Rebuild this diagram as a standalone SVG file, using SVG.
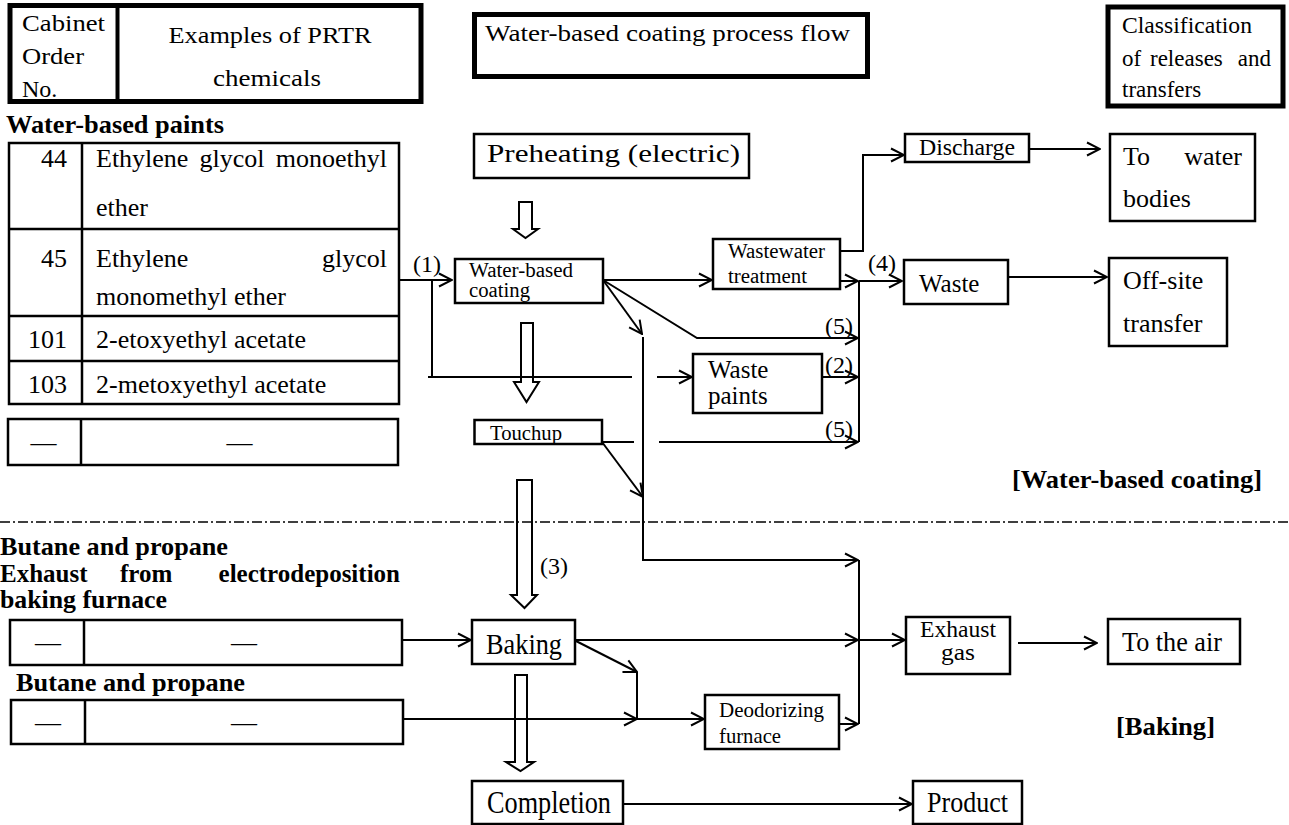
<svg xmlns="http://www.w3.org/2000/svg" width="1289" height="825" viewBox="0 0 1289 825" font-family="'Liberation Serif', 'Times New Roman', serif">
  <style>
    text { font-family: 'Liberation Serif', 'Times New Roman', serif; fill: #000; }
    .b { font-weight: bold; }
    .box { fill: #fff; stroke: #000; stroke-width: 2.5; }
    .thick { fill: #fff; stroke: #000; stroke-width: 5; }
    .rule { stroke: #000; stroke-width: 2.5; fill: none; }
    .conn path { fill: none; stroke: #000; stroke-width: 2; }
    .barrow { fill: none; stroke: #000; stroke-width: 2; }
  </style>
  <defs>
    <marker id="ah" markerUnits="userSpaceOnUse" markerWidth="16" markerHeight="16" viewBox="0 0 16 16" refX="15" refY="8" orient="auto">
      <path d="M2,1.5 L15,8 L2,14.5" fill="none" stroke="#000" stroke-width="2"/>
    </marker>
  </defs>
  <rect width="1289" height="825" fill="#fff"/>

  <!-- section divider -->
  <line x1="0" y1="522" x2="1289" y2="522" stroke="#000" stroke-width="1.5" stroke-dasharray="10 3 2 3"/>

  <!-- block (process) arrows -->
  <g id="process-arrows">
    <polygon class="barrow" points="519,202 532,202 532,229 538,229 525.5,238 513,229 519,229"/>
    <polygon class="barrow" points="521,323 533,323 533,382 539,382 526.5,402 514,382 521,382"/>
    <polygon class="barrow" points="517,480 532,480 532,595 537,595 524.5,608 511,595 517,595"/>
    <polygon class="barrow" points="515,675 527,675 527,762 534,762 520.5,771 506,762 515,762"/>
  </g>

  <!-- connectors -->
  <g id="connectors" class="conn">
    <path d="M398,280 H452" marker-end="url(#ah)"/>
    <path d="M432,280 V377"/>
    <path d="M428,377 H632"/>
    <path d="M657,377 H692" marker-end="url(#ah)"/>
    <path d="M603,280 H712" marker-end="url(#ah)"/>
    <path d="M603,280 L642,334" marker-end="url(#ah)"/>
    <path d="M603,280 L697,338 H858" marker-end="url(#ah)"/>
    <path d="M643,337 V560 H858" marker-end="url(#ah)"/>
    <path d="M602,442 H634"/>
    <path d="M659,442 H858" marker-end="url(#ah)"/>
    <path d="M602,442 L643,497" marker-end="url(#ah)"/>
    <path d="M840,251 H863 V155 H904" marker-end="url(#ah)"/>
    <path d="M840,281 H858" marker-end="url(#ah)"/>
    <path d="M822,377 H858" marker-end="url(#ah)"/>
    <path d="M859,281 V442"/>
    <path d="M859,281 H902" marker-end="url(#ah)"/>
    <path d="M1029,149 H1100" marker-end="url(#ah)"/>
    <path d="M1008,277 H1107" marker-end="url(#ah)"/>
    <path d="M402,640 H471" marker-end="url(#ah)"/>
    <path d="M574,640 H858" marker-end="url(#ah)"/>
    <path d="M859,640 H905" marker-end="url(#ah)"/>
    <path d="M574,640 L637,672" marker-end="url(#ah)"/>
    <path d="M637,672 V719"/>
    <path d="M403,719 H637" marker-end="url(#ah)"/>
    <path d="M637,719 H704" marker-end="url(#ah)"/>
    <path d="M836,724 H858" marker-end="url(#ah)"/>
    <path d="M859,560 V724"/>
    <path d="M1018,643 H1097" marker-end="url(#ah)"/>
    <path d="M623,804 H912" marker-end="url(#ah)"/>
  </g>

  <!-- flow labels -->
  <g id="labels" font-size="24">
    <text x="413" y="272">(1)</text>
    <text x="868" y="271">(4)</text>
    <text x="825" y="334">(5)</text>
    <text x="825" y="373">(2)</text>
    <text x="825" y="437">(5)</text>
    <text x="540" y="574">(3)</text>
  </g>

  <!-- column headers -->
  <g id="header-chemicals">
    <rect class="thick" x="10" y="5.5" width="411" height="96" stroke-width="4.5"/>
    <line x1="117.5" y1="5.5" x2="117.5" y2="101.5" stroke="#000" stroke-width="4"/>
    <g font-size="24">
      <text x="22" y="31" textLength="83" lengthAdjust="spacingAndGlyphs">Cabinet</text>
      <text x="22" y="64" textLength="62" lengthAdjust="spacingAndGlyphs">Order</text>
      <text x="22" y="97">No.</text>
      <text x="270" y="43" text-anchor="middle" textLength="203" lengthAdjust="spacingAndGlyphs">Examples of PRTR</text>
      <text x="267" y="86" text-anchor="middle" textLength="108" lengthAdjust="spacingAndGlyphs">chemicals</text>
    </g>
  </g>
  <g id="header-flow">
    <rect class="thick" x="474.5" y="14.5" width="393" height="62"/>
    <text x="485" y="41" font-size="24" textLength="365" lengthAdjust="spacingAndGlyphs">Water-based coating process flow</text>
  </g>
  <g id="header-classification">
    <rect class="thick" x="1108" y="7" width="175" height="99" stroke-width="5.5"/>
    <g font-size="23">
      <text x="1122" y="33" textLength="130" lengthAdjust="spacingAndGlyphs">Classification</text>
      <text x="1122" y="66">of</text>
      <text x="1150" y="66">releases</text>
      <text x="1271" y="66" text-anchor="end">and</text>
      <text x="1122" y="97">transfers</text>
    </g>
  </g>

  <!-- chemicals: water-based paints -->
  <g id="table-water-based-paints">
    <text class="b" x="6" y="133" font-size="25" textLength="218" lengthAdjust="spacingAndGlyphs">Water-based paints</text>
    <rect class="box" x="9" y="143" width="390" height="261"/>
    <path class="rule" d="M9,229 H399 M9,316 H399 M9,361 H399 M82,143 V404"/>
    <g font-size="26">
      <text x="67" y="167" text-anchor="end">44</text>
      <text x="96" y="167">Ethylene</text>
      <text x="199.5" y="167">glycol</text>
      <text x="387" y="167" text-anchor="end">monoethyl</text>
      <text x="96" y="216">ether</text>
      <text x="67" y="267" text-anchor="end">45</text>
      <text x="96" y="267">Ethylene</text>
      <text x="387" y="267" text-anchor="end">glycol</text>
      <text x="96" y="305">monomethyl ether</text>
      <text x="67" y="348" text-anchor="end">101</text>
      <text x="96" y="348">2-etoxyethyl acetate</text>
      <text x="67" y="393" text-anchor="end">103</text>
      <text x="96" y="393">2-metoxyethyl acetate</text>
    </g>
  </g>
  <g id="table-blank-1">
    <rect class="box" x="8" y="419" width="390" height="46"/>
    <line x1="81" y1="419" x2="81" y2="465" stroke="#000" stroke-width="2.5"/>
    <text x="43.5" y="451" font-size="26" text-anchor="middle">—</text>
    <text x="239.5" y="451" font-size="26" text-anchor="middle">—</text>
  </g>

  <!-- chemicals: baking -->
  <g id="label-baking-chemicals" class="b" font-size="25">
    <text x="0" y="555" textLength="228" lengthAdjust="spacingAndGlyphs">Butane and propane</text>
    <text x="0" y="582">Exhaust</text>
    <text x="120" y="582">from</text>
    <text x="400" y="582" text-anchor="end">electrodeposition</text>
    <text x="0" y="608" textLength="167" lengthAdjust="spacingAndGlyphs">baking furnace</text>
  </g>
  <g id="table-blank-2">
    <rect class="box" x="10" y="620" width="392" height="45"/>
    <line x1="84" y1="620" x2="84" y2="665" stroke="#000" stroke-width="2.5"/>
    <text x="48" y="651" font-size="26" text-anchor="middle">—</text>
    <text x="244" y="651" font-size="26" text-anchor="middle">—</text>
  </g>
  <g id="table-blank-3">
    <text class="b" x="16" y="691" font-size="25" textLength="229" lengthAdjust="spacingAndGlyphs">Butane and propane</text>
    <rect class="box" x="11" y="700" width="392" height="44"/>
    <line x1="85" y1="700" x2="85" y2="744" stroke="#000" stroke-width="2.5"/>
    <text x="48" y="731" font-size="26" text-anchor="middle">—</text>
    <text x="244" y="731" font-size="26" text-anchor="middle">—</text>
  </g>

  <!-- process steps -->
  <g id="preheating">
    <rect class="box" x="474" y="134" width="275" height="44"/>
    <text x="487" y="162" font-size="26" textLength="253" lengthAdjust="spacingAndGlyphs">Preheating (electric)</text>
  </g>
  <g id="water-based-coating">
    <rect class="box" x="455" y="259" width="148" height="44" stroke-width="2"/>
    <text x="469" y="277" font-size="20" textLength="104" lengthAdjust="spacingAndGlyphs">Water-based</text>
    <text x="469" y="297" font-size="20" textLength="61" lengthAdjust="spacingAndGlyphs">coating</text>
  </g>
  <g id="touchup">
    <rect class="box" x="474.5" y="420" width="127.5" height="24" stroke-width="2"/>
    <text x="490" y="440" font-size="20" textLength="72" lengthAdjust="spacingAndGlyphs">Touchup</text>
  </g>
  <g id="wastewater-treatment">
    <rect class="box" x="713" y="239" width="127" height="50" stroke-width="2"/>
    <text x="728" y="258" font-size="20" textLength="97" lengthAdjust="spacingAndGlyphs">Wastewater</text>
    <text x="728" y="283" font-size="20" textLength="79" lengthAdjust="spacingAndGlyphs">treatment</text>
  </g>
  <g id="discharge">
    <rect class="box" x="905" y="134" width="124" height="28" stroke-width="2"/>
    <text x="919" y="155" font-size="23" textLength="96" lengthAdjust="spacingAndGlyphs">Discharge</text>
  </g>
  <g id="to-water-bodies">
    <rect class="box" x="1110" y="134" width="145" height="87" stroke-width="2"/>
    <text x="1123" y="165" font-size="26">To</text>
    <text x="1242" y="165" font-size="26" text-anchor="end">water</text>
    <text x="1123" y="207" font-size="26">bodies</text>
  </g>
  <g id="waste">
    <rect class="box" x="904" y="260" width="104" height="44" stroke-width="2"/>
    <text x="919" y="292" font-size="25">Waste</text>
  </g>
  <g id="off-site-transfer">
    <rect class="box" x="1109" y="258" width="118" height="88" stroke-width="2"/>
    <text x="1123" y="289" font-size="26">Off-site</text>
    <text x="1123" y="332" font-size="26">transfer</text>
  </g>
  <g id="waste-paints">
    <rect class="box" x="693" y="354" width="129" height="59"/>
    <text x="708" y="378" font-size="25">Waste</text>
    <text x="708" y="404" font-size="25">paints</text>
  </g>
  <g id="baking">
    <rect class="box" x="472" y="620" width="103" height="44"/>
    <text x="486" y="654" font-size="29" textLength="76" lengthAdjust="spacingAndGlyphs">Baking</text>
  </g>
  <g id="exhaust-gas">
    <rect class="box" x="906" y="617" width="104" height="57"/>
    <text x="958" y="637" font-size="23" text-anchor="middle" textLength="76" lengthAdjust="spacingAndGlyphs">Exhaust</text>
    <text x="958" y="660" font-size="23" text-anchor="middle" textLength="34" lengthAdjust="spacingAndGlyphs">gas</text>
  </g>
  <g id="to-the-air">
    <rect class="box" x="1108" y="619" width="132" height="45"/>
    <text x="1122" y="651" font-size="27" textLength="100" lengthAdjust="spacingAndGlyphs">To the air</text>
  </g>
  <g id="deodorizing-furnace">
    <rect class="box" x="705" y="695" width="134" height="54" stroke-width="2"/>
    <text x="719" y="717" font-size="22" textLength="105" lengthAdjust="spacingAndGlyphs">Deodorizing</text>
    <text x="719" y="743" font-size="22" textLength="62" lengthAdjust="spacingAndGlyphs">furnace</text>
  </g>
  <g id="completion">
    <rect class="box" x="472" y="781" width="151" height="43"/>
    <text x="487" y="813" font-size="31" textLength="124" lengthAdjust="spacingAndGlyphs">Completion</text>
  </g>
  <g id="product">
    <rect class="box" x="913" y="781" width="109" height="43"/>
    <text x="927" y="812" font-size="29" textLength="81" lengthAdjust="spacingAndGlyphs">Product</text>
  </g>

  <!-- section titles -->
  <g id="section-titles" class="b" font-size="25">
    <text x="1012" y="488" textLength="250" lengthAdjust="spacingAndGlyphs">[Water-based coating]</text>
    <text x="1116" y="735" textLength="99" lengthAdjust="spacingAndGlyphs">[Baking]</text>
  </g>
</svg>
